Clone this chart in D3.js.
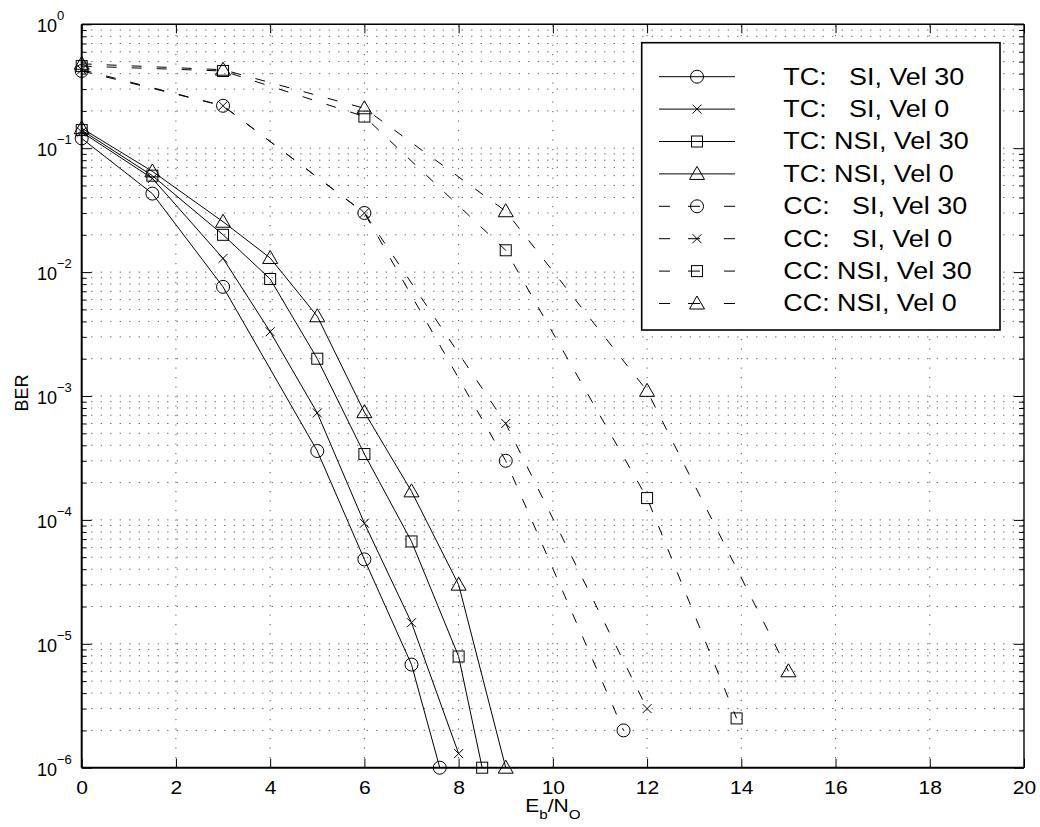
<!DOCTYPE html>
<html>
<head>
<meta charset="utf-8">
<script src="https://cdn.jsdelivr.net/npm/d3@7"></script>
<style>
  body { margin: 0; background: #fff; }
  svg { display: block; }
  text { font-family: "Liberation Sans", Arial, Helvetica, sans-serif; fill: #000; }
</style>
</head>
<body>
<svg id="chart" width="1040" height="827"></svg>
<script>
// ---- Data: BER versus Eb/No for turbo (TC) and convolutional (CC) codes ----
const tcSiV30_x  = [0, 1.5, 3, 5, 6, 7, 7.6];
const tcSiV30_y  = [0.12, 0.043, 0.0076, 3.6e-4, 4.8e-5, 6.8e-6, 1e-6];

const tcSiV0_x   = [0, 1.5, 3, 4, 5, 6, 7, 8];
const tcSiV0_y   = [0.135, 0.057, 0.0129, 0.0033, 7.3e-4, 9.4e-5, 1.48e-5, 1.3e-6];

const tcNsiV30_x = [0, 1.5, 3, 4, 5, 6, 7, 8, 8.5];
const tcNsiV30_y = [0.14, 0.06, 0.02, 0.0088, 0.002, 3.4e-4, 6.7e-5, 7.9e-6, 1e-6];

const tcNsiV0_x  = [0, 1.5, 3, 4, 5, 6, 7, 8, 9];
const tcNsiV0_y  = [0.145, 0.065, 0.0255, 0.013, 0.0044, 7.4e-4, 1.7e-4, 3e-5, 1e-6];

const ccSiV30_x  = [0, 3, 6, 9, 11.5];
const ccSiV30_y  = [0.42, 0.22, 0.03, 3e-4, 2e-6];

const ccSiV0_x   = [0, 3, 6, 9, 12];
const ccSiV0_y   = [0.43, 0.22, 0.03, 6e-4, 3e-6];

const ccNsiV30_x = [0, 3, 6, 9, 12, 13.9];
const ccNsiV30_y = [0.46, 0.42, 0.18, 0.015, 1.5e-4, 2.5e-6];

const ccNsiV0_x  = [0, 3, 6, 9, 12, 15];
const ccNsiV0_y  = [0.48, 0.43, 0.21, 0.031, 1.1e-3, 6e-6];

const seriesLabels = [
  "TC:   SI, Vel 30",
  "TC:   SI, Vel 0",
  "TC: NSI, Vel 30",
  "TC: NSI, Vel 0",
  "CC:   SI, Vel 30",
  "CC:   SI, Vel 0",
  "CC: NSI, Vel 30",
  "CC: NSI, Vel 0"
];
const seriesMarkers = ["circle", "cross", "square", "triangle", "circle", "cross", "square", "triangle"];
const seriesDashed  = [false, false, false, false, true, true, true, true];

const xTicks = [0, 2, 4, 6, 8, 10, 12, 14, 16, 18, 20];
const yExponents = [0, -1, -2, -3, -4, -5, -6];

const xLabel = { main: "E", sub1: "b", mid: "/N", sub2: "O" };
const yLabel = "BER";

// ---- Build series table ----
const xs = [tcSiV30_x, tcSiV0_x, tcNsiV30_x, tcNsiV0_x, ccSiV30_x, ccSiV0_x, ccNsiV30_x, ccNsiV0_x];
const ys = [tcSiV30_y, tcSiV0_y, tcNsiV30_y, tcNsiV0_y, ccSiV30_y, ccSiV0_y, ccNsiV30_y, ccNsiV0_y];
const series = seriesLabels.map((label, i) => ({
  label,
  marker: seriesMarkers[i],
  dashed: seriesDashed[i],
  points: xs[i].map((v, j) => ({ x: v, y: ys[i][j] }))
}));

// ---- Layout ----
const L = 81.7, R = 1024, T = 24.3, B = 767.7;
const TEXT_STRETCH = 1.17;

const svg = d3.select("#chart");
const x = d3.scaleLinear().domain([0, 20]).range([L, R]);
const y = d3.scaleLog().domain([1e-6, 1]).range([B, T]);

// ---- Grid (dotted) ----
const majorY = yExponents.map(e => Math.pow(10, e));
const minorY = [];
for (let e = -6; e < 0; e++) for (let m = 2; m <= 9; m++) minorY.push(m * Math.pow(10, e));
const gridY = majorY.concat(minorY).filter(v => v > 1e-6 && v < 1);
const gridX = xTicks.filter(v => v > 0 && v < 20);

const grid = svg.append("g").attr("stroke", "#555").attr("stroke-width", 1)
  .attr("stroke-dasharray", "1.2,8.3").attr("fill", "none");
grid.selectAll("line.h").data(gridY).join("line").attr("class", "h")
  .attr("x1", L).attr("x2", R).attr("y1", d => y(d)).attr("y2", d => y(d));
grid.selectAll("line.v").data(gridX).join("line").attr("class", "v")
  .attr("y1", B).attr("y2", T).attr("x1", d => x(d)).attr("x2", d => x(d));

// ---- Axes with inward ticks ----
function cleanAxis(g) { g.select(".domain").remove(); g.selectAll(".tick line").attr("stroke", "#000"); }

const xBottom = svg.append("g").attr("transform", `translate(0,${B})`)
  .call(d3.axisBottom(x).tickValues(xTicks).tickSizeInner(-9).tickSizeOuter(0).tickPadding(13.3));
cleanAxis(xBottom);
xBottom.selectAll(".tick text")
  .attr("font-size", 18).attr("font-family", null)
  .attr("transform", `scale(${TEXT_STRETCH},1)`);

svg.append("g").attr("transform", `translate(0,${T})`)
  .call(d3.axisTop(x).tickValues(xTicks).tickSizeInner(-9).tickSizeOuter(0).tickFormat(""))
  .call(cleanAxis);

svg.append("g").attr("transform", `translate(${L},0)`)
  .call(d3.axisLeft(y).tickValues(majorY).tickSizeInner(-10).tickSizeOuter(0).tickFormat(""))
  .call(cleanAxis);
svg.append("g").attr("transform", `translate(${L},0)`)
  .call(d3.axisLeft(y).tickValues(minorY).tickSizeInner(-5).tickSizeOuter(0).tickFormat(""))
  .call(cleanAxis);
svg.append("g").attr("transform", `translate(${R},0)`)
  .call(d3.axisRight(y).tickValues(majorY).tickSizeInner(-10).tickSizeOuter(0).tickFormat(""))
  .call(cleanAxis);
svg.append("g").attr("transform", `translate(${R},0)`)
  .call(d3.axisRight(y).tickValues(minorY).tickSizeInner(-5).tickSizeOuter(0).tickFormat(""))
  .call(cleanAxis);

// y tick labels as 10^k
const yLab = svg.append("g");
yExponents.forEach(e => {
  const t = yLab.append("text")
    .attr("x", 37).attr("y", y(Math.pow(10, e)) + 8)
    .attr("font-size", 18);
  t.append("tspan").text("10");
  t.append("tspan").attr("font-size", 13).attr("dy", -12)
    .text(e === 0 ? "0" : "\u2212" + Math.abs(e));
});

// ---- Marker drawing ----
function drawMarker(g, type, cx, cy) {
  const m = g.append("g").attr("transform", `translate(${cx},${cy})`)
    .attr("fill", "none").attr("stroke", "#000").attr("stroke-width", 1);
  if (type === "circle") {
    m.append("circle").attr("r", 6.5);
  } else if (type === "square") {
    m.append("rect").attr("x", -5.5).attr("y", -5.5).attr("width", 11).attr("height", 11);
  } else if (type === "triangle") {
    m.append("path").attr("d", "M0,-7.5L7.5,5.5L-7.5,5.5Z");
  } else if (type === "cross") {
    m.append("path").attr("d", "M-4.5,-4.5L4.5,4.5M-4.5,4.5L4.5,-4.5");
  }
}

// ---- Curves ----
const line = d3.line().x(d => x(d.x)).y(d => y(d.y));
const curves = svg.append("g");
series.forEach(s => {
  curves.append("path").datum(s.points)
    .attr("d", line)
    .attr("fill", "none").attr("stroke", "#000").attr("stroke-width", 1)
    .attr("stroke-dasharray", s.dashed ? "10,15" : null);
  s.points.forEach(p => drawMarker(curves, s.marker, x(p.x), y(p.y)));
});

// ---- Frame ----
const frame = svg.append("g").attr("stroke", "#000").attr("fill", "none");
frame.append("line").attr("x1", L).attr("x2", R).attr("y1", B).attr("y2", B).attr("stroke-width", 2);
frame.append("line").attr("x1", L).attr("x2", L).attr("y1", T).attr("y2", B).attr("stroke-width", 2);
frame.append("line").attr("x1", L).attr("x2", R).attr("y1", T).attr("y2", T).attr("stroke-width", 1.4);
frame.append("line").attr("x1", R).attr("x2", R).attr("y1", T).attr("y2", B).attr("stroke-width", 1.4);

// ---- Axis titles ----
const xt = svg.append("text")
  .attr("transform", `translate(${(L + R) / 2},812) scale(${TEXT_STRETCH},1)`)
  .attr("text-anchor", "middle").attr("font-size", 18);
xt.append("tspan").text(xLabel.main);
xt.append("tspan").attr("font-size", 13).attr("dy", 7).text(xLabel.sub1);
xt.append("tspan").attr("dy", -7).text(xLabel.mid);
xt.append("tspan").attr("font-size", 13).attr("dy", 7).text(xLabel.sub2);

svg.append("text")
  .attr("transform", "translate(28,393) rotate(-90)")
  .attr("text-anchor", "middle").attr("font-size", 18)
  .text(yLabel);

// ---- Legend ----
const legend = svg.append("g");
legend.append("rect")
  .attr("x", 641.7).attr("y", 42.7).attr("width", 358.3).attr("height", 287.3)
  .attr("fill", "#fff").attr("stroke", "#000").attr("stroke-width", 1.6);
series.forEach((s, i) => {
  const ly = 76.7 + i * 32.4;
  legend.append("line")
    .attr("x1", 659).attr("x2", 735).attr("y1", ly).attr("y2", ly)
    .attr("stroke", "#000").attr("stroke-width", 1)
    .attr("stroke-dasharray", s.dashed ? "11,18,12,24,11" : null);
  drawMarker(legend, s.marker, 697, ly);
  legend.append("text")
    .attr("transform", `translate(783.3,${ly + 7.8}) scale(${TEXT_STRETCH},1)`)
    .attr("font-size", 23)
    .style("white-space", "pre")
    .text(s.label);
});
</script>
</body>
</html>
